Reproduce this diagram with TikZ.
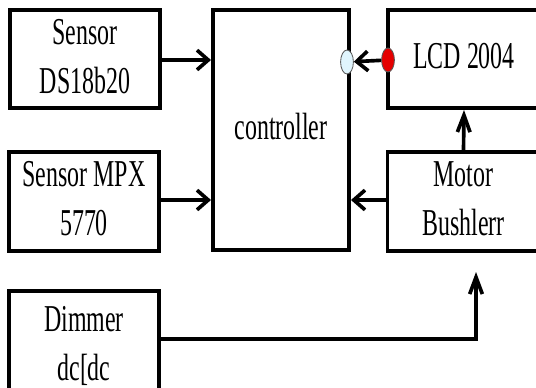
\documentclass[tikz,border=0pt]{standalone}
\usepackage{fontspec}
\setmainfont{Liberation Serif}
\usepackage{graphicx}
\usetikzlibrary{arrows.meta}
\usetikzlibrary{shapes.geometric}

% narrow text, as in the squeezed original
\newcommand{\blocktext}[1]{\scalebox{0.63}[1]{\begin{tabular}{@{}c@{}}#1\end{tabular}}}

\begin{document}
\begin{tikzpicture}[x=0.025cm, y=-0.025cm,
  every block/.style={draw, line width=2.8pt, inner sep=0pt, font=\fontsize{27}{35}\selectfont},
  side block/.style={minimum width=3.75cm, minimum height=2.45cm},
  hlink/.style={-{Straight Barb[length=8pt,width=14pt]}, line width=2.6pt},
  vlink/.style={-{Straight Barb[length=12pt,width=9pt]}, line width=2.6pt},
  pin dot/.style={ellipse, draw=gray!70!black, line width=0.6pt, inner sep=0pt,
    minimum width=0.32cm, minimum height=0.6cm}]

\useasboundingbox (0,0) rectangle (536,387);
\clip (0,0) rectangle (536,387);

\foreach \n/\x/\y/\t in {sensor1/85/59/{Sensor\\DS18b20}, sensor2/84/201.5/{Sensor MPX\\5770}}
  \node [every block/.try, side block] (\n) at (\x,\y) {\blocktext{\t}};

\node [every block/.try, minimum width=3.75cm, minimum height=2.75cm] (dimmer) at (84,346) {\blocktext{Dimmer\\dc[dc}};

\node [every block/.try, minimum width=3.4cm, minimum height=6cm] (ctrl) at (281,130) {\blocktext{controller}};

\node [every block/.try, minimum width=3.8cm, minimum height=2.45cm] (lcd) at (464,59) {\blocktext{LCD 2004}};
\node [every block/.try, minimum width=3.8cm, minimum height=2.43cm] (motor) at (463.5,201.5) {\blocktext{Motor\\Bushlerr}};

% pins of the LCD link
\node [pin dot, fill=red!90!black] (lcdpin) at (388,60) {};
\node [pin dot, fill=cyan!12] (ctrlpin) at (347,62) {};

\draw [hlink] (sensor1.east |- 0,60) -- (ctrl.west |- 0,60);
\draw [hlink] (sensor2.east |- 0,200) -- (ctrl.west |- 0,200);
\draw [hlink] (motor.west |- 0,200) -- (ctrl.east |- 0,200);
\draw [hlink] (lcdpin) -- (ctrlpin);
\draw [vlink] (motor.north) -- (lcd.south);

\coordinate (motorin) at (476,272);
\draw [vlink] (dimmer.east |- 0,339) -| (motorin);

\end{tikzpicture}
\end{document}
